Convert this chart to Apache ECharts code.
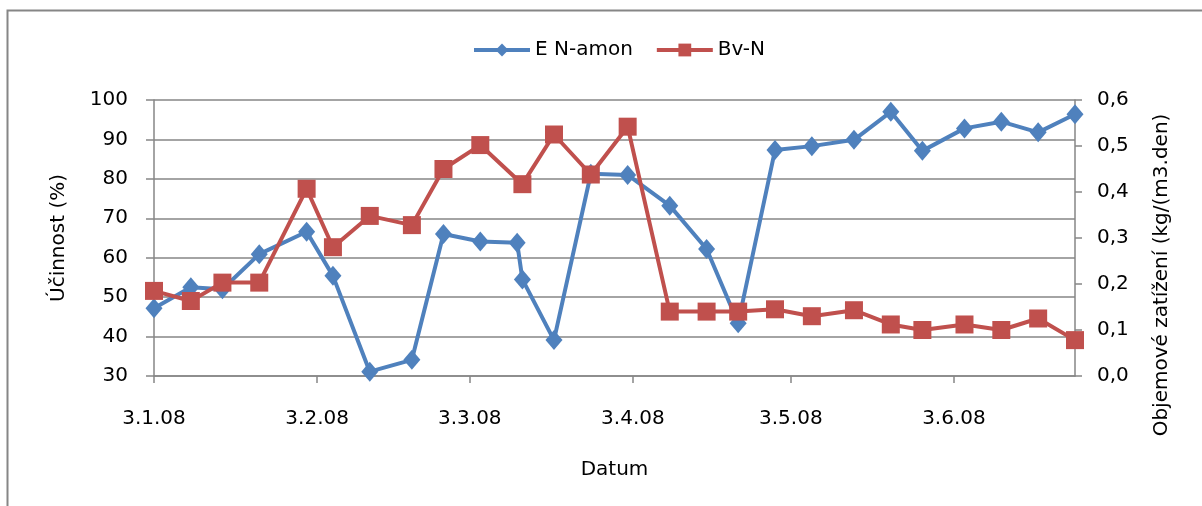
<!DOCTYPE html>
<html>
<head>
<meta charset="utf-8">
<script src="https://cdn.jsdelivr.net/npm/echarts@6/dist/echarts.min.js"></script>
<style>
html,body{margin:0;padding:0;background:#fff;}
#chart{width:1202px;height:506px;}
</style>
</head>
<body>
<div id="chart"></div>
<script>
// ---- data ----
const datesAmon = ["2008-01-03","2008-01-10","2008-01-16","2008-01-23","2008-02-01","2008-02-06","2008-02-13","2008-02-21","2008-02-27","2008-03-05","2008-03-12","2008-03-13","2008-03-19","2008-03-26","2008-04-02","2008-04-10","2008-04-17","2008-04-23","2008-04-30","2008-05-07","2008-05-15","2008-05-22","2008-05-28","2008-06-05","2008-06-12","2008-06-19","2008-06-26"];
const eNamon = [47.2,52.5,52.0,60.9,66.6,55.4,31.1,34.1,66.0,64.1,63.8,54.5,39.1,81.3,81.0,73.2,62.2,43.4,87.3,88.3,89.9,97.0,87.1,92.8,94.5,91.8,96.4];
const datesBv = ["2008-01-03","2008-01-10","2008-01-16","2008-01-23","2008-02-01","2008-02-06","2008-02-13","2008-02-21","2008-02-27","2008-03-05","2008-03-13","2008-03-19","2008-03-26","2008-04-02","2008-04-10","2008-04-17","2008-04-23","2008-04-30","2008-05-07","2008-05-15","2008-05-22","2008-05-28","2008-06-05","2008-06-12","2008-06-19","2008-06-26"];
const bvN = [0.185,0.163,0.203,0.203,0.407,0.280,0.348,0.328,0.450,0.502,0.417,0.525,0.438,0.542,0.140,0.140,0.140,0.145,0.130,0.143,0.112,0.100,0.112,0.100,0.125,0.078];
const xTickDates = ["2008-01-03","2008-02-03","2008-03-03","2008-04-03","2008-05-03","2008-06-03"];
const xMinDate = "2008-01-03";
const xMaxDate = "2008-06-26";
const seriesNames = ["E N-amon","Bv-N"];
const axisNames = {x:"Datum", yLeft:"Účinnost (%)", yRight:"Objemové zatížení (kg/(m3.den)"};

function ts(s){const p=s.split('-').map(Number);return Date.UTC(p[0],p[1]-1,p[2]);}
function fmtDate(v){const d=new Date(v);return d.getUTCDate()+'.'+(d.getUTCMonth()+1)+'.'+String(d.getUTCFullYear()).slice(2);}

const FONT = 'DejaVu Sans';
const GRAY = '#868686';
const txt = {color:'#000', fontFamily:FONT, fontSize:20};

const chart = echarts.init(document.getElementById('chart'), null, {renderer:'canvas'});
chart.setOption({
  animation:false,
  backgroundColor:'#fff',
  textStyle:{fontFamily:FONT},
  graphic:[{type:'rect',shape:{x:7.5,y:10.5,width:1400,height:700},style:{fill:null,stroke:GRAY,lineWidth:2},silent:true}],
  legend:{
    left:467, top:35,
    itemWidth:56, itemHeight:16, itemGap:22,
    lineStyle:{width:4},
    textStyle:Object.assign({}, txt),
    data:seriesNames
  },
  grid:{left:154, right:127, top:100, bottom:130, containLabel:false},
  xAxis:{
    type:'value',
    min:ts(xMinDate), max:ts(xMaxDate),
    name:axisNames.x, nameLocation:'middle', nameGap:84,
    nameTextStyle:Object.assign({}, txt),
    axisLine:{show:true, lineStyle:{color:GRAY, width:1.5}},
    axisTick:{show:true, length:7, lineStyle:{color:GRAY, width:1.5}, customValues:xTickDates.map(ts)},
    axisLabel:Object.assign({margin:33, customValues:xTickDates.map(ts), formatter:fmtDate}, txt),
    splitLine:{show:false}
  },
  yAxis:[{
    type:'value', min:30, max:100, interval:10, position:'left',
    name:axisNames.yLeft, nameLocation:'middle', nameGap:85, nameRotate:90,
    nameTextStyle:Object.assign({}, txt),
    axisLine:{show:true, lineStyle:{color:GRAY, width:1.5}},
    axisTick:{show:true, length:8, lineStyle:{color:GRAY, width:1.5}},
    axisLabel:Object.assign({margin:26}, txt),
    splitLine:{show:true, lineStyle:{color:GRAY, width:1.5}}
  },{
    type:'value', min:0, max:0.6, interval:0.1, position:'right',
    name:axisNames.yRight, nameLocation:'middle', nameGap:77, nameRotate:90,
    nameTextStyle:Object.assign({padding:[0,74,0,0]}, txt),
    axisLine:{show:true, lineStyle:{color:GRAY, width:1.5}},
    axisTick:{show:true, length:7, lineStyle:{color:GRAY, width:1.5}},
    axisLabel:Object.assign({margin:22, formatter:function(v){return v.toFixed(1).replace('.',',');}}, txt),
    splitLine:{show:false}
  }],
  series:[{
    name:seriesNames[0], type:'line', yAxisIndex:0,
    data:datesAmon.map((d,i)=>[ts(d), eNamon[i]]),
    symbol:'diamond', symbolSize:[17,20],
    lineStyle:{color:'#4F81BD', width:4},
    itemStyle:{color:'#4F81BD'}
  },{
    name:seriesNames[1], type:'line', yAxisIndex:1,
    data:datesBv.map((d,i)=>[ts(d), bvN[i]]),
    symbol:'rect', symbolSize:18,
    lineStyle:{color:'#C0504D', width:4},
    itemStyle:{color:'#C0504D'}
  }]
});
</script>
</body>
</html>
